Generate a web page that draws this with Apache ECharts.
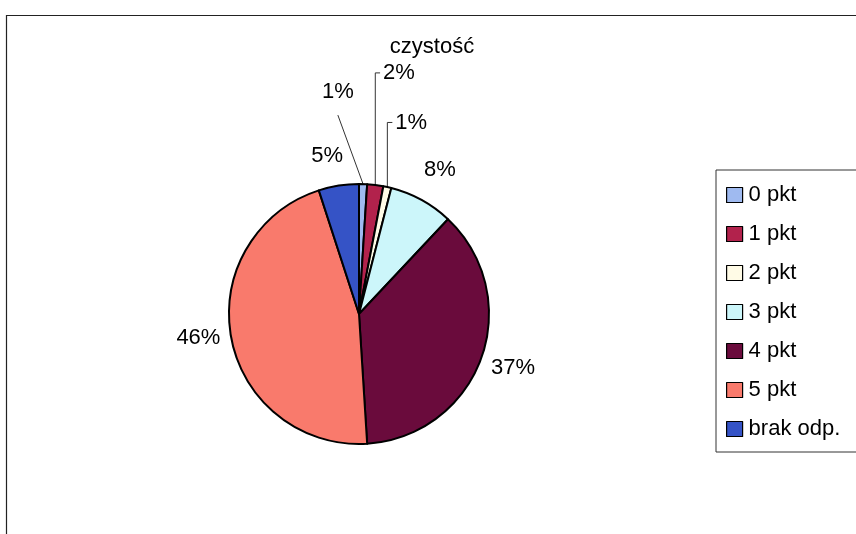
<!DOCTYPE html>
<html><head><meta charset="utf-8">
<script src="https://cdn.jsdelivr.net/npm/echarts@6/dist/echarts.min.js"></script>
<style>html,body{margin:0;padding:0;background:#fff}#c{width:856px;height:534px}</style>
</head><body><div id="c"></div>
<script>
const title = 'czystość';
const categories = ['0 pkt', '1 pkt', '2 pkt', '3 pkt', '4 pkt', '5 pkt', 'brak odp.'];
const values = [1, 2, 1, 8, 37, 46, 5];
const colors = ['#9fbaf0', '#b2224c', '#fffbe6', '#ccf6fa', '#6a0b3c', '#f97a6c', '#3553c6'];

// leader line settings per slice: [show, length, length2, style]
const lineCfg = [
  [true, 60, 0, 'diag'],
  [true, 110, 0, 'bracket'],
  [true, 55, 0, 'bracket'],
  [false, 34, 0, null],
  [false, 4, 0, null],
  [false, 6, 0, null],
  [false, 30, 0, null]
];
const shifts = [[-48, -32], [-11, -3], [-9, -11], [-19, 0], [1, 9], [0, -2], [14, 0]];

const chart = echarts.init(document.getElementById('c'));
chart.setOption({
  animation: false,
  backgroundColor: '#fff',
  title: {text: title, left: 432, top: 36, textAlign: 'center', padding: 0,
    textStyle: {fontFamily: 'Liberation Sans', fontSize: 22, fontWeight: 'normal', color: '#000'}},
  graphic: [{type: 'rect', shape: {x: 6.5, y: 15.5, width: 900, height: 600},
    style: {fill: 'none', stroke: '#222', lineWidth: 1.2}, silent: true}],
  legend: {
    orient: 'vertical', left: 716, top: 170,
    padding: [14, 40, 12, 10], itemGap: 17,
    itemWidth: 16, itemHeight: 15, icon: 'rect',
    borderColor: '#333', borderWidth: 1,
    itemStyle: {borderColor: '#000', borderWidth: 1.2},
    textStyle: {fontFamily: 'Liberation Sans', fontSize: 22, color: '#000', padding: [0, 0, 0, 1]},
    data: categories
  },
  series: [{
    type: 'pie', center: [359, 314], radius: 130,
    startAngle: 90, clockwise: true,
    avoidLabelOverlap: false,
    itemStyle: {borderColor: '#000', borderWidth: 2},
    label: {show: true, position: 'outside', formatter: '{d}%',
      fontFamily: 'Liberation Sans', fontSize: 22, color: '#000'},
    labelLine: {lineStyle: {color: '#333', width: 1}, smooth: false},
    labelLayout: function (p) {
      const i = p.dataIndex;
      const s = shifts[i];
      const r = p.labelRect;
      const nx = r.x + s[0], ny = r.y + s[1];
      const out = {x: nx, y: ny, align: 'left', verticalAlign: 'top'};
      const style = lineCfg[i][3];
      if (style && p.labelLinePoints) {
        const p0 = p.labelLinePoints[0];
        const my = ny + r.height / 2;
        if (style === 'bracket') {
          out.labelLinePoints = [[p0[0], p0[1]], [p0[0], my], [nx - 3, my]];
        } else {
          const ex = nx + r.width / 2, ey = ny + r.height + 12;
          out.labelLinePoints = [[p0[0], p0[1]], [ex, ey], [ex, ey]];
        }
      }
      return out;
    },
    data: categories.map((n, i) => ({
      name: n, value: values[i],
      itemStyle: {color: colors[i]},
      labelLine: {show: lineCfg[i][0], length: lineCfg[i][1], length2: lineCfg[i][2]}
    }))
  }]
});
</script></body></html>
